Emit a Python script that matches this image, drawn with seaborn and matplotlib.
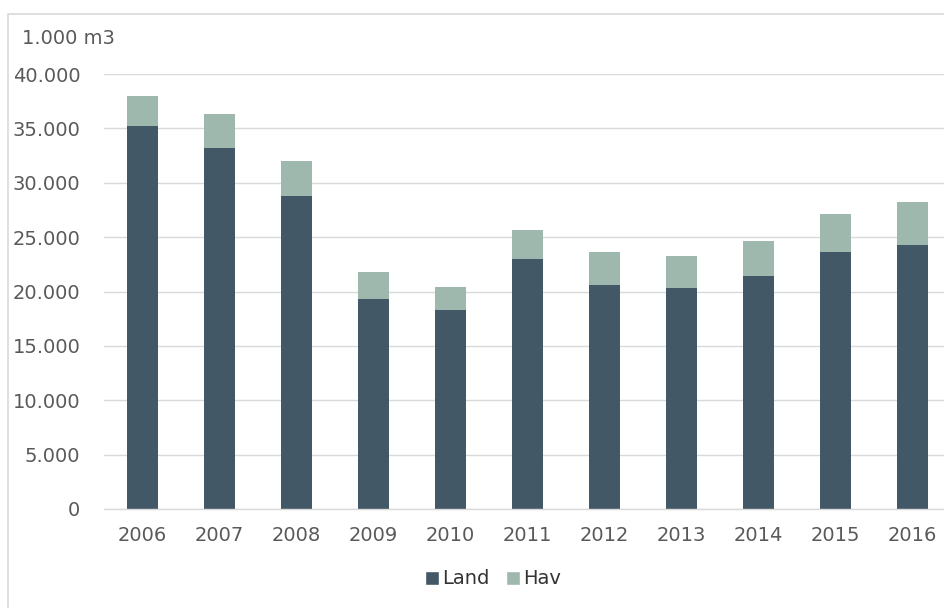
import matplotlib
matplotlib.use('Agg')
import matplotlib.pyplot as plt
import matplotlib.ticker as mticker
from matplotlib.patches import Patch, Rectangle
import seaborn as sns
import pandas as pd

# values in 1.000 m3
years = ['2006', '2007', '2008', '2009', '2010', '2011',
         '2012', '2013', '2014', '2015', '2016']
land = [35200, 33200, 28800, 19300, 18270, 22960, 20600, 20350, 21400, 23660, 24300]
hav = [2750, 3100, 3200, 2470, 2130, 2740, 3000, 2910, 3200, 3440, 3900]

df = pd.DataFrame({'year': years, 'Land': land, 'Hav': hav})
df['total'] = df['Land'] + df['Hav']

land_col = '#435866'
hav_col = '#9fb8ae'
text_col = '#595959'
grid_col = '#d9d9d9'

sns.set_style('white')
plt.rcParams['font.family'] = ['DejaVu Sans']

fig = plt.figure(figsize=(9.45, 6.08), dpi=100)
# light frame round the chart area (cut off at right and bottom)
fig.patches.append(Rectangle((8 / 945, -0.05), 1, 1.05 - 14 / 608, transform=fig.transFigure,
                             fill=False, edgecolor=grid_col, linewidth=1.2))

ax = fig.add_axes([104 / 945, 1 - 509 / 608, 847 / 945, 435 / 608])

# stacked bars: total first (Hav colour), Land drawn over it
sns.barplot(data=df, x='year', y='total', color=hav_col, width=0.407,
            saturation=1, linewidth=0, ax=ax)
sns.barplot(data=df, x='year', y='Land', color=land_col, width=0.407,
            saturation=1, linewidth=0, ax=ax)

ax.set_ylim(0, 40000)
ax.set_xlim(-0.5, len(years) - 0.5)
ax.set_yticks(range(0, 40001, 5000))
ax.yaxis.set_major_formatter(mticker.FuncFormatter(
    lambda v, p: '0' if v == 0 else f'{int(v):,}'.replace(',', '.')))
ax.yaxis.grid(True, color=grid_col, linewidth=1)
ax.set_axisbelow(True)
ax.set_xlabel('')
ax.set_ylabel('')

for s in ['top', 'right', 'left']:
    ax.spines[s].set_visible(False)
ax.spines['bottom'].set_color(grid_col)
ax.spines['bottom'].set_linewidth(1)

ax.tick_params(axis='both', length=0, labelsize=14, labelcolor=text_col)
ax.tick_params(axis='y', pad=17)
ax.tick_params(axis='x', pad=12)

fig.text(22 / 945, 1 - 38 / 608, '1.000 m3', fontsize=14, color=text_col,
         ha='left', va='center')

handles = [Patch(facecolor=land_col, label='Land'),
           Patch(facecolor=hav_col, label='Hav')]
fig.legend(handles=handles, loc='center', bbox_to_anchor=(493 / 945, 1 - 579 / 608),
           ncol=2, frameon=False, fontsize=14, handlelength=0.72, handleheight=0.72,
           handletextpad=0.2, columnspacing=0.8, labelcolor='#333333')

fig.savefig('out.png', dpi=100)
